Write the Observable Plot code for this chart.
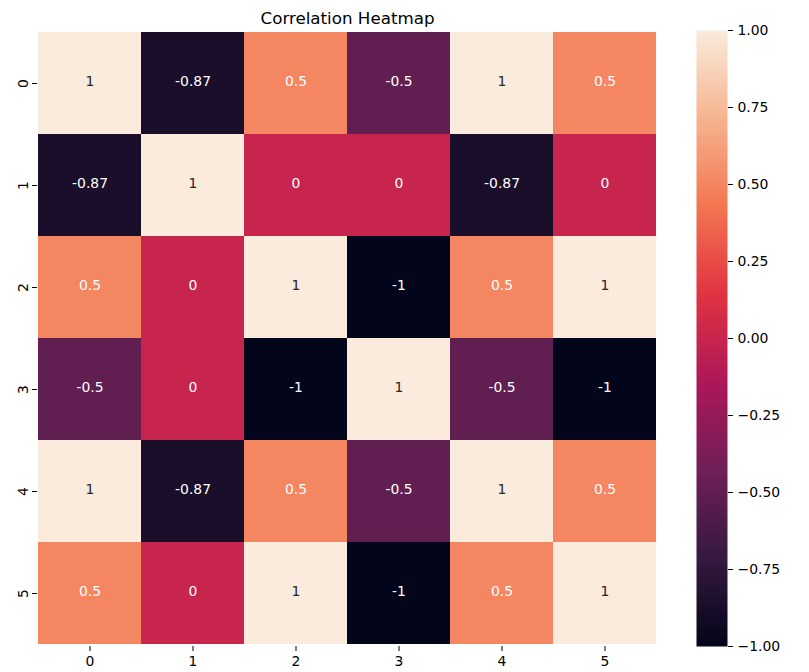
<!DOCTYPE html>
<html>
<head>
<meta charset="utf-8">
<script src="https://cdn.jsdelivr.net/npm/d3@7"></script>
<script src="https://cdn.jsdelivr.net/npm/@observablehq/plot@0.6"></script>
<style>
  body { margin: 0; background: #fff; }
  #chart { position: relative; width: 809px; height: 672px; }
  #chart svg { position: absolute; top: 0; }
</style>
</head>
<body>
<div id="chart"></div>
<script>
// Row and column labels of the correlation matrix
const rowLabels = ["0", "1", "2", "3", "4", "5"];
const colLabels = ["0", "1", "2", "3", "4", "5"];

// Correlation values, one array per row
const row0 = [1, -0.87, 0.5, -0.5, 1, 0.5];
const row1 = [-0.87, 1, 0, 0, -0.87, 0];
const row2 = [0.5, 0, 1, -1, 0.5, 1];
const row3 = [-0.5, 0, -1, 1, -0.5, -1];
const row4 = [1, -0.87, 0.5, -0.5, 1, 0.5];
const row5 = [0.5, 0, 1, -1, 0.5, 1];
const matrix = [row0, row1, row2, row3, row4, row5];

// Colour bar ticks
const barTicks = [-1, -0.75, -0.5, -0.25, 0, 0.25, 0.5, 0.75, 1];

// "rocket" colour ramp, evenly spaced stops
const rocketStops = ["#03051a", "#35193e", "#701f57", "#ad1759", "#e13342", "#f37651", "#f6b48f", "#faebdd"];
const rocket = d3.piecewise(d3.interpolateRgb, rocketStops);

const cells = rowLabels.flatMap((r, i) =>
  colLabels.map((c, j) => ({row: r, col: c, value: matrix[i][j]}))
);

// relative luminance decides between light and dark annotation text
function luminance(v) {
  const c = d3.rgb(rocket((v + 1) / 2));
  const lin = (u) => { u /= 255; return u <= 0.03928 ? u / 12.92 : Math.pow((u + 0.055) / 1.055, 2.4); };
  return 0.2126 * lin(c.r) + 0.7152 * lin(c.g) + 0.0722 * lin(c.b);
}
const darkCells = cells.filter(d => luminance(d.value) <= 0.408);
const lightCells = cells.filter(d => luminance(d.value) > 0.408);

const colorScale = {type: "linear", domain: [-1, 1], interpolate: rocket};
const font = "DejaVu Sans, sans-serif";

const main = Plot.plot({
  width: 809,
  height: 672,
  marginLeft: 37,
  marginRight: 152,
  marginTop: 30,
  marginBottom: 26,
  style: {fontFamily: font, fontSize: "13.9px", color: "#000", background: "transparent"},
  x: {domain: colLabels, padding: 0, label: null, tickSize: 5, tickPadding: 5},
  y: {domain: rowLabels, padding: 0, label: null, tickSize: 5, tickPadding: 5, tickRotate: -90},
  color: colorScale,
  marks: [
    Plot.cell(cells, {x: "col", y: "row", fill: "value", inset: 0}),
    Plot.text(darkCells, {x: "col", y: "row", text: d => String(d.value), fill: "#ffffff", fontSize: 13.9, dy: -1.5}),
    Plot.text(lightCells, {x: "col", y: "row", text: d => String(d.value), fill: "#262626", fontSize: 13.9, dy: -1.5}),
    Plot.text(["Correlation Heatmap"], {frameAnchor: "top", lineAnchor: "bottom", dy: -7, fontSize: 16.7, fill: "#000"})
  ]
});

const bar = Plot.plot({
  width: 113,
  height: 672,
  marginLeft: 0,
  marginRight: 82,
  marginTop: 30,
  marginBottom: 26,
  style: {fontFamily: font, fontSize: "13.9px", color: "#000", background: "transparent"},
  x: {domain: [0, 1], axis: null},
  y: {domain: [-1, 1], axis: "right", ticks: barTicks, tickFormat: ".2f", tickSize: 5, tickPadding: 5, label: null},
  color: colorScale,
  marks: [
    Plot.raster({x1: 0, x2: 1, y1: -1, y2: 1, width: 1, height: 512, fill: (x, y) => y})
  ]
});
bar.style.left = "696px";

const root = document.getElementById("chart");
root.append(main);
root.append(bar);
</script>
</body>
</html>
